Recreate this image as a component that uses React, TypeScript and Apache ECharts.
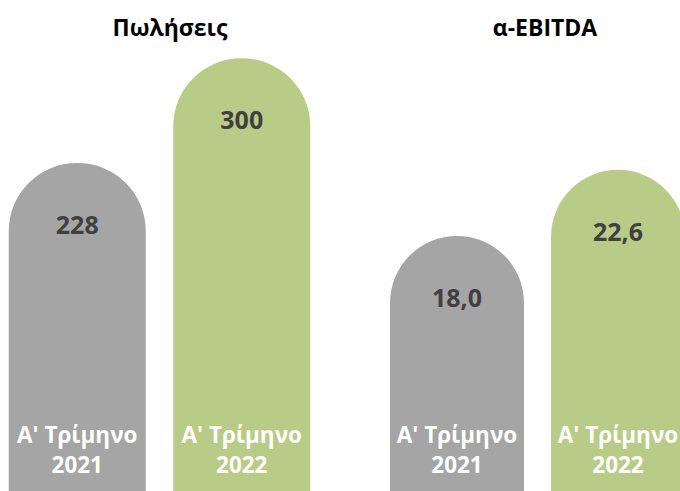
import React, { useEffect, useRef } from "react";
import * as echarts from "echarts";

const categories = ["Α' Τρίμηνο\n2021", "Α' Τρίμηνο\n2022"];
const salesValues = [228, 300];
const ebitdaValues = [18.0, 22.6];
const panelTitles = ["Πωλήσεις", "α-EBITDA"];
const barColors = ["#A5A5A5", "#B8CC87"];

const FONT = "'Open Sans', sans-serif";
const OFFSET = 20;

export default function App() {
  const ref = useRef<HTMLDivElement>(null);
  useEffect(() => {
    document.body.style.margin = "0";
    document.body.style.overflow = "hidden";
    const chart = echarts.init(ref.current!, null, { renderer: "svg" });
    const fmtComma = (v: number) => v.toFixed(1).replace(".", ",");
    const mkData = (vals: number[]) =>
      vals.map((v, i) => ({ value: v, itemStyle: { color: barColors[i] } }));
    const valueLabel = (formatter: (p: any) => string) => ({
      show: true,
      position: "insideTop",
      distance: 47,
      formatter,
      color: "#404040",
      fontFamily: FONT,
      fontWeight: "bold",
      fontSize: 25,
      lineHeight: 28,
    });
    const xAxisCommon = {
      type: "category",
      data: categories,
      z: 10,
      axisLine: { show: false },
      axisTick: { show: false },
      axisLabel: {
        inside: true,
        margin: 16,
        color: "#FFFFFF",
        fontFamily: FONT,
        fontWeight: "bold",
        fontSize: 22.5,
        lineHeight: 30,
      },
    };
    const titleStyle = { fontFamily: FONT, fontWeight: "bold", fontSize: 23, color: "#000" };
    chart.setOption({
      animation: false,
      title: [
        { text: panelTitles[0], left: 165 + OFFSET, top: 10, textAlign: "center", textStyle: titleStyle },
        { text: panelTitles[1], left: 540 + OFFSET, top: 10, textAlign: "center", textStyle: titleStyle },
      ],
      grid: [
        { left: -5 + OFFSET, width: 329, top: 0, height: 495 },
        { left: 376.5 + OFFSET, width: 322, top: 0, height: 495 },
      ],
      xAxis: [
        { ...xAxisCommon, gridIndex: 0 },
        { ...xAxisCommon, gridIndex: 1 },
      ],
      yAxis: [
        { type: "value", gridIndex: 0, min: 0, max: 340, show: false },
        { type: "value", gridIndex: 1, min: 0, max: 34.4, show: false },
      ],
      series: [
        {
          type: "bar",
          xAxisIndex: 0,
          yAxisIndex: 0,
          barWidth: 137,
          data: mkData(salesValues),
          itemStyle: { borderRadius: [68, 68, 0, 0] },
          label: valueLabel((p: any) => String(p.value)),
        },
        {
          type: "bar",
          xAxisIndex: 1,
          yAxisIndex: 1,
          barWidth: 134,
          data: mkData(ebitdaValues),
          itemStyle: { borderRadius: [67, 67, 0, 0] },
          label: valueLabel((p: any) => fmtComma(p.value)),
        },
      ],
    });
    return () => chart.dispose();
  }, []);
  return (
    <div
      ref={ref}
      style={{ position: "absolute", left: -OFFSET, top: 0, width: 680 + 2 * OFFSET + 10, height: 500 }}
    />
  );
}
